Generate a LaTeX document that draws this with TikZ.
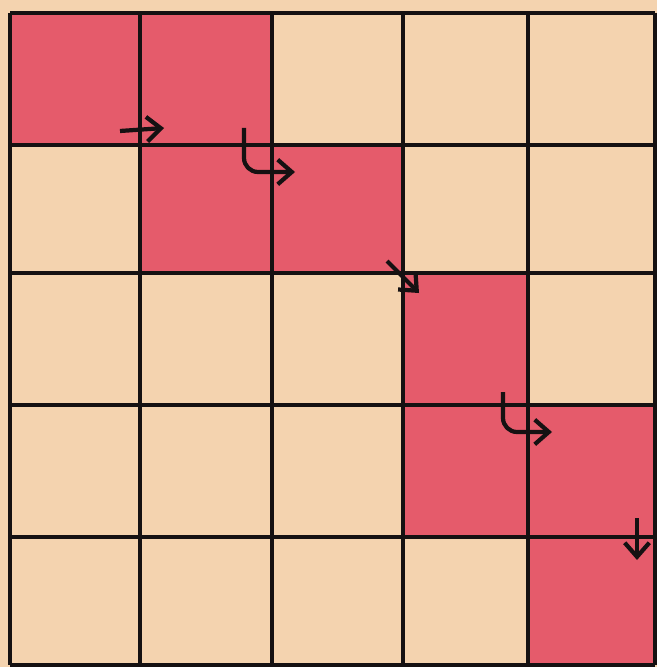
\documentclass[tikz,border=0pt]{standalone}
\usetikzlibrary{arrows.meta}
\definecolor{paper}{HTML}{F4D3AF}
\definecolor{rose}{HTML}{E55B6B}
\definecolor{ink}{HTML}{151112}

\begin{document}
\begin{tikzpicture}[
    x=0.01cm, y=-0.01cm,
    cell/.style={fill=rose},
    gridline/.style={ink, line width=1.4pt},
    move/.style={ink, line width=1.2pt, rounded corners=4pt,
        -{Straight Barb[length=4pt, width=7pt, line width=1.2pt]}},
]

% paper, and the margins of the picture
\fill[paper] (0,0) rectangle (657,667);
\useasboundingbox (0,0) rectangle (657,667);

% ============================================================ the path of cells
\fill[cell] (10,13) rectangle (272,145);
\fill[cell] (140,145) rectangle (403,273);
\fill[cell] (403,273) rectangle (528,405);
\fill[cell] (403,405) rectangle (655,537);
\fill[cell] (528,537) rectangle (655,665);

% ============================================================ the grid
\foreach \x in {10, 140, 272, 403, 528, 655}{
    \draw[gridline] (\x,13) -- (\x,665);
}
\foreach \y in {13, 145, 273, 405, 537, 665}{
    \draw[gridline] (10,\y) -- (655,\y);
}

% ============================================================ the moves
\coordinate (m1a) at (120,131);
\coordinate (m1b) at (164,128);
\coordinate (m2a) at (244,128);
\coordinate (m2b) at (295,172);
\coordinate (m3a) at (387,261);
\coordinate (m3b) at (419,293);
\coordinate (m4a) at (503,392);
\coordinate (m4b) at (552,432);
\coordinate (m5a) at (637,518);
\coordinate (m5b) at (637,560);

\draw[move] (m1a) -- (m1b);
\draw[move] (m2a) |- (m2b);
\draw[move] (m3a) -- (m3b);
\draw[move] (m4a) |- (m4b);
\draw[move] (m5a) -- (m5b);

\end{tikzpicture}
\end{document}
